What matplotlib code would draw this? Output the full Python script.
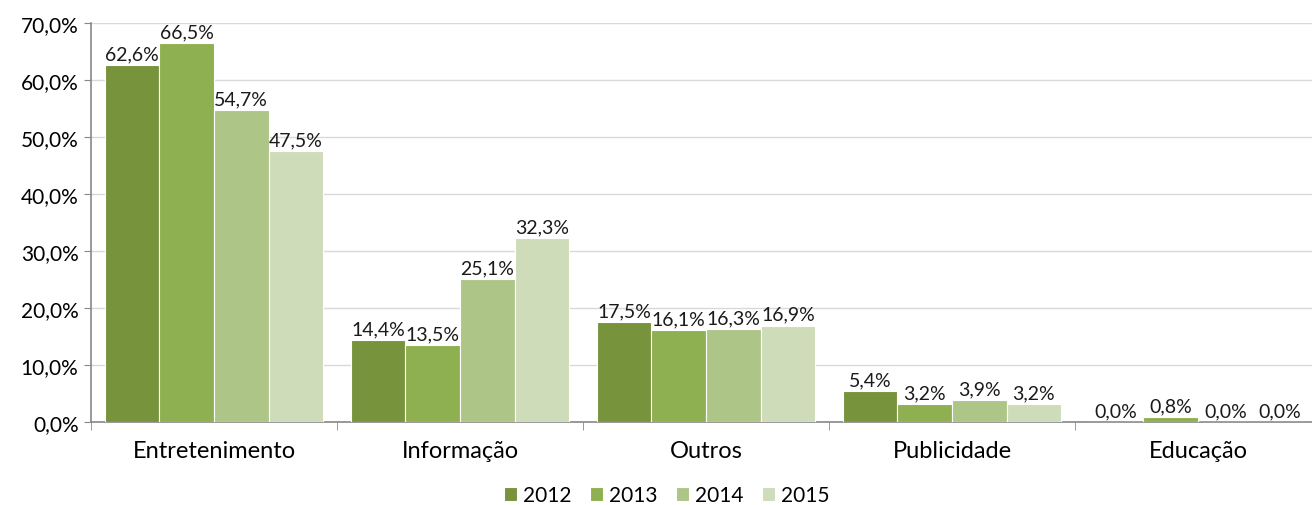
import numpy as np
import matplotlib
matplotlib.use("Agg")
import matplotlib.pyplot as plt
from matplotlib.ticker import FuncFormatter

plt.rcParams["font.family"] = ["Lato", "DejaVu Sans"]

CATEGORIES = ["Entretenimento", "Informação", "Outros", "Publicidade", "Educação"]
YEARS = ["2012", "2013", "2014", "2015"]
V2012 = [62.6, 14.4, 17.5, 5.4, 0.0]
V2013 = [66.5, 13.5, 16.1, 3.2, 0.8]
V2014 = [54.7, 25.1, 16.3, 3.9, 0.0]
V2015 = [47.5, 32.3, 16.9, 3.2, 0.0]
COLORS = ["#77933C", "#8FB050", "#ADC688", "#CFDCB9"]


def pct(v):
    return f"{v:.1f}%".replace(".", ",")


W, H = 1312, 506
fig = plt.figure(figsize=(W / 100, H / 100), dpi=100)
left, right, top, bottom = 91, 1321, 24, 423
ax = fig.add_axes([left / W, 1 - bottom / H, (right - left) / W, (bottom - top) / H])

x = np.arange(len(CATEGORIES))
bw = 0.222
series = [V2012, V2013, V2014, V2015]
for i, (vals, yr) in enumerate(zip(series, YEARS)):
    pos = x + (i - 1.5) * bw
    ax.bar(pos, vals, width=bw, color=COLORS[i], edgecolor="white", linewidth=0.8,
           label=yr, zorder=3)
    for px, v in zip(pos, vals):
        ax.text(px, v + 0.5, pct(v), ha="center", va="bottom", fontsize=14,
                color="#1a1a1a", zorder=4)

ax.set_xlim(-0.5, len(CATEGORIES) - 0.5)
ax.set_ylim(0, 70)
ax.set_yticks(np.arange(0, 71, 10))
ax.yaxis.set_major_formatter(FuncFormatter(lambda v, _: pct(v)))
ax.grid(axis="y", color="#D9D9D9", linewidth=1, zorder=0)

ax.set_xticks(x)
ax.set_xticklabels(CATEGORIES, fontsize=17)
ax.set_xticks(np.arange(-0.5, len(CATEGORIES), 1), minor=True)
ax.tick_params(axis="x", which="major", length=0, pad=13)
ax.tick_params(axis="x", which="minor", length=6, color="#888888")
ax.tick_params(axis="y", labelsize=15, length=5, color="#888888", pad=4)

for s in ["top", "right"]:
    ax.spines[s].set_visible(False)
for s in ["left", "bottom"]:
    ax.spines[s].set_color("#888888")
    ax.spines[s].set_linewidth(1.2)

leg = fig.legend(loc="center", bbox_to_anchor=(0.508, 1 - 496 / H), ncol=4,
                 frameon=False, fontsize=15, handlelength=0.65, handleheight=0.65,
                 handletextpad=0.25, columnspacing=0.9)

fig.savefig("out.png", dpi=100)
